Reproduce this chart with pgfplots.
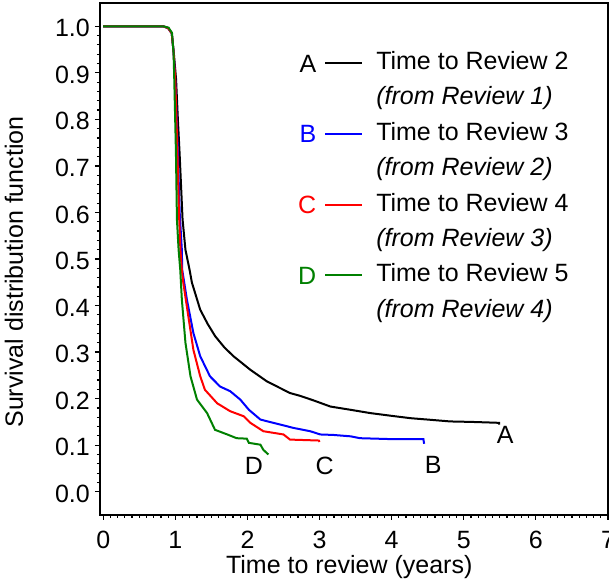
\documentclass[border=0pt]{standalone}
\usepackage{pgfplots}
\pgfplotsset{compat=1.18}
\usepackage{fontspec}
\setmainfont{Liberation Sans}
\definecolor{sasgreen}{RGB}{0,128,0}
\pgfplotsset{
  letimg/.style={legend image code/.code={%
    \draw[##1,line width=2pt] (0pt,0pt) -- (37pt,0pt)
      node[pos=0,anchor=east,inner sep=0pt,xshift=-8pt,text height=18pt,text depth=0pt]{#1};}},
}
\begin{document}
\fontsize{25}{30}\selectfont
\begin{tikzpicture}
\begin{axis}[
  name=ax,
  scale only axis, width=508pt, height=512pt,
  xmin=-0.045, xmax=7.0, ymin=-0.05, ymax=1.05,
  axis line style={line width=2.4pt},
  tick align=outside,
  tick style={line width=1.2pt, black},
  major tick length=5pt, minor tick length=3pt,
  xtick={0,1,2,3,4,5,6,7}, minor x tick num=9,
  ytick={0,0.1,0.2,0.3,0.4,0.5,0.6,0.7,0.8,0.9,1.0}, minor y tick num=4,
  xtick pos=bottom, ytick pos=left,
  /pgf/number format/assume math mode=true,
  yticklabel style={/pgf/number format/fixed, /pgf/number format/fixed zerofill, /pgf/number format/precision=1},
  every tick label/.append style={font=\fontsize{25}{30}\selectfont, inner sep=0pt},
  xticklabel style={yshift=-11pt},
  yticklabel style={xshift=-5pt, yshift=-2pt},
  every axis x label/.style={at={(axis description cs:0.4906,-0.1133)}, anchor=base, font=\fontsize{25}{30}\selectfont},
  every axis y label/.style={at={(axis description cs:-0.1516,0.4746)}, rotate=90, anchor=base, font=\fontsize{25}{30}\selectfont},
  xlabel={Time to review (years)},
  ylabel={Survival distribution function},
  legend cell align=left,
  legend style={at={(rel axis cs:0.3898,0.9076)}, anchor=north west, draw=none, fill=none,
    inner sep=0pt, row sep=10.4pt, column sep=13pt,
    font=\fontsize{25}{30}\selectfont,
    nodes={inner sep=0pt, text height=19pt, text depth=6pt}},
]
\addplot[black, line width=2pt, letimg=A] coordinates {
(0,1) (0.83,1) (0.9,0.996) (0.95,0.985) (0.98,0.94) (1.01,0.886) (1.035,0.80)
(1.058,0.73) (1.10,0.585) (1.14,0.52) (1.197,0.477) (1.23,0.449) (1.345,0.391)
(1.45,0.36) (1.553,0.334) (1.68,0.31) (1.807,0.291) (2.04,0.262) (2.27,0.237)
(2.59,0.212) (2.73,0.206) (2.92,0.196) (3.15,0.183) (3.43,0.176) (3.70,0.169)
(4.0,0.163) (4.26,0.158) (4.5,0.155) (4.81,0.151) (5.1,0.150) (5.3,0.149)
(5.49,0.148) (5.49,0.144)
};
\addlegendentry{Time to Review 2}
\addlegendimage{empty legend}
\addlegendentry{\textit{(from Review 1)}}
\addplot[blue, line width=2pt, letimg=B] coordinates {
(0,1) (0.83,1) (0.9,0.996) (0.95,0.985) (0.975,0.945) (1.0,0.88) (1.03,0.75)
(1.06,0.6) (1.09,0.52) (1.095,0.477) (1.16,0.413) (1.25,0.341) (1.345,0.291)
(1.48,0.248) (1.62,0.226) (1.76,0.216) (1.90,0.198) (2.02,0.176) (2.18,0.155)
(2.36,0.148) (2.64,0.137) (2.87,0.130) (3.01,0.123) (3.19,0.122) (3.43,0.119)
(3.56,0.115) (4.0,0.113) (4.44,0.113) (4.45,0.103)
};
\addlegendentry{Time to Review 3}
\addlegendimage{empty legend}
\addlegendentry{\textit{(from Review 2)}}
\addplot[red, line width=2pt, letimg=C] coordinates {
(0,1) (0.83,1) (0.9,0.996) (0.95,0.985) (0.975,0.945) (1.0,0.88) (1.025,0.75)
(1.05,0.6) (1.07,0.52) (1.09,0.477) (1.11,0.449) (1.18,0.377) (1.25,0.305)
(1.345,0.248) (1.41,0.219) (1.58,0.19) (1.76,0.173) (1.95,0.162) (2.04,0.148)
(2.22,0.130) (2.50,0.123) (2.59,0.112) (2.99,0.110) (3.0,0.107)
};
\addlegendentry{Time to Review 4}
\addlegendimage{empty legend}
\addlegendentry{\textit{(from Review 3)}}
\addplot[sasgreen, line width=2pt, letimg=D] coordinates {
(0,1) (0.83,1) (0.906,0.997) (0.953,0.986) (0.975,0.943) (0.985,0.886) (1.008,0.73)
(1.022,0.585) (1.045,0.52) (1.068,0.477) (1.09,0.413) (1.14,0.32) (1.21,0.248)
(1.30,0.198) (1.44,0.169) (1.55,0.133) (1.72,0.123) (1.85,0.115) (1.99,0.114)
(2.02,0.105) (2.18,0.101) (2.22,0.09) (2.29,0.08)
};
\addlegendentry{Time to Review 5}
\addlegendimage{empty legend}
\addlegendentry{\textit{(from Review 4)}}
\node at (axis cs:5.575,0.122) {A};
\node at (axis cs:4.577,0.058) {B};
\node at (axis cs:3.07,0.056) {C};
\node at (axis cs:2.09,0.056) {D};
\end{axis}
\pgfresetboundingbox
\path ([xshift=-100pt,yshift=-73pt]ax.south west) rectangle ([xshift=1pt,yshift=3pt]ax.north east);
\end{tikzpicture}
\end{document}
